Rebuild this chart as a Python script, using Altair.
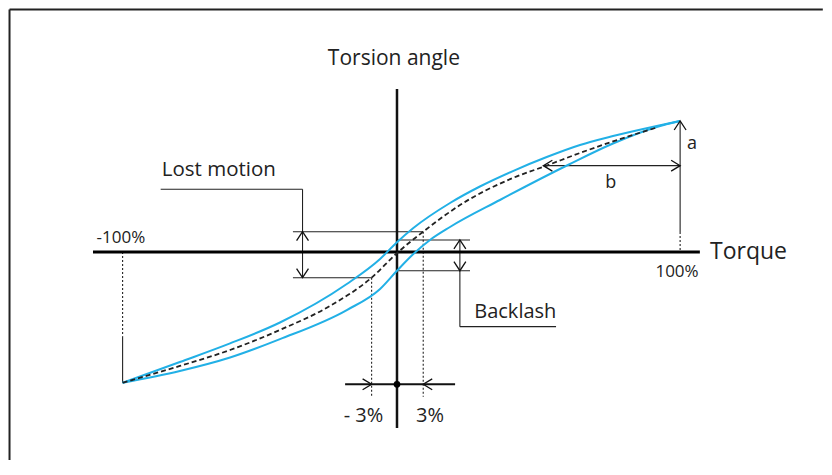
import altair as alt
import pandas as pd

# ---------------- data (torque % , torsion angle %) ----------------
upper_T = [-97.3, -77.0, -59.2, -41.5, -17.8, -6.0, -0.1, 5.8, 18.8, 29.4, 41.1, 53.1, 64.9, 76.6, 92.1, 100.4]
upper_A = [-99.8, -84.0, -69.8, -53.8, -24.4, -5.3, 7.3, 18.3, 37.4, 50.0, 61.8, 72.5, 81.7, 88.5, 96.2, 100.0]

lower_T = [-97.3, -77.0, -59.2, -41.5, -17.8, -6.0, -0.1, 5.8, 11.7, 18.8, 36.5, 60.6, 76.6, 92.1, 100.4]
lower_A = [-99.8, -90.8, -80.5, -66.5, -44.3, -28.2, -14.5, -1.5, 9.2, 19.1, 39.7, 66.4, 82.8, 95.4, 100.0]

mean_T = [-97.3, -77.0, -59.2, -41.5, -23.8, -9.0, 0.0, 9.3, 23.5, 41.1, 53.1, 64.9, 76.6, 92.1]
mean_A = [-99.8, -87.0, -74.8, -59.5, -41.2, -19.6, -0.8, 15.5, 37.4, 56.5, 66.0, 75.6, 84.4, 95.0]

# line segments: (x1, y1, x2, y2, style)
seg_x1 = [-107.8, 0.0, -36.9, -36.9, -33.5, -83.8, 0.4, 0.4, 22.3, 22.3, 100.4, 51.9, -97.3,
          100.4, -97.3, -9.0, 9.3, -18.4]
seg_y1 = [0.0, 124.4, 15.5, -19.6, -19.6, 47.9, 9.2, -14.3, 9.2, -57.0, 100.0, 65.9, -64.7,
          15.3, 0.0, -19.6, 15.5, -101.0]
seg_x2 = [107.4, 0.0, 9.3, -9.0, -33.5, -33.5, 25.9, 25.9, 22.3, 56.4, 100.4, 100.4, -97.3,
          100.4, -97.3, -9.0, 9.3, 20.6]
seg_y2 = [0.0, -134.4, 15.5, -19.6, 47.9, 47.9, 9.2, -14.3, -57.0, -57.0, 15.3, 65.9, -99.8,
          0.0, -64.7, -110.5, -110.5, -101.0]
seg_style = ["axisx", "axisy", "thin", "thin", "thin", "thin", "thin", "thin", "thin", "thin",
             "thin", "thin", "thin", "dot", "dot", "dot", "dot", "mid"]

# outer frame edges (top and left only), in the same units
top_x1, top_y1, top_x2, top_y2 = [-137.4], [185.1], [151.0], [185.1]
left_x1, left_y1, left_x2, left_y2 = [-137.4], [185.1], [-137.4], [-158.78]

# arrow heads: (x, y, direction)
arr_x = [-33.5, -33.5, 22.3, 22.3, 100.4, 51.9, 100.4, -9.0, 9.3]
arr_y = [15.5, -19.6, 9.2, -14.3, 100.0, 65.9, 65.9, -101.0, -101.0]
arr_dir = ["up", "down", "up", "down", "up", "left", "right", "right", "left"]

dot_x = [0.0]
dot_y = [-101.0]

# labels
lab_text = ["Torsion angle", "Torque", "Lost motion", "Backlash", "-100%", "100%", "a", "b", "- 3%", "3%"]
lab_x = [-1.1, 111.0, -83.4, 27.4, -97.9, 99.3, 104.6, 75.8, -11.9, 11.7]
lab_y = [142.7, -5.5, 58.0, -50.6, 6.9, -18.9, 78.5, 49.0, -129.5, -129.5]
lab_size = [21, 23, 20.5, 20, 17, 17, 18, 18, 20, 20]
lab_align = ["center", "left", "left", "left", "center", "center", "center", "center", "center", "center"]

# ---------------- chart ----------------
W, H = 816, 452
XS = alt.Scale(domain=[-137.94, 151.42], nice=False, zero=False)
YS = alt.Scale(domain=[-158.78, 186.26], nice=False, zero=False)
FONT = "Open Sans"


def curve(T, A):
    return pd.DataFrame({"T": T, "A": A})


def line_layer(df, color, width, dash=None):
    kw = dict(color=color, strokeWidth=width, interpolate="monotone")
    if dash:
        kw["strokeDash"] = dash
    return alt.Chart(df).mark_line(**kw).encode(
        x=alt.X("T:Q", scale=XS, axis=None),
        y=alt.Y("A:Q", scale=YS, axis=None),
    )


segs = pd.DataFrame({"x1": seg_x1, "y1": seg_y1, "x2": seg_x2, "y2": seg_y2, "style": seg_style})
top_df = pd.DataFrame({"x1": top_x1, "y1": top_y1, "x2": top_x2, "y2": top_y2})
left_df = pd.DataFrame({"x1": left_x1, "y1": left_y1, "x2": left_x2, "y2": left_y2})


def rule_layer(df, color, width, dash=None):
    kw = dict(color=color, strokeWidth=width)
    if dash:
        kw["strokeDash"] = dash
    return alt.Chart(df).mark_rule(**kw).encode(
        x=alt.X("x1:Q", scale=XS, axis=None),
        y=alt.Y("y1:Q", scale=YS, axis=None),
        x2="x2:Q",
        y2="y2:Q",
    )


def seg_layer(style, color, width, dash=None):
    return rule_layer(segs[segs["style"] == style], color, width, dash)


shapes = {
    "up": "M-0.66,1 L0,0 L0.66,1",
    "down": "M-0.66,-1 L0,0 L0.66,-1",
    "left": "M1,-0.6 L0,0 L1,0.6",
    "right": "M-1,-0.6 L0,0 L-1,0.6",
}
arrows = pd.DataFrame({"x": arr_x, "y": arr_y, "d": arr_dir})


def arrow_layer(d):
    return alt.Chart(arrows[arrows["d"] == d]).mark_point(
        shape=shapes[d], size=324, filled=False, color="#111", strokeWidth=1.3, opacity=1
    ).encode(
        x=alt.X("x:Q", scale=XS, axis=None),
        y=alt.Y("y:Q", scale=YS, axis=None),
    )


labels = pd.DataFrame({"text": lab_text, "x": lab_x, "y": lab_y})


def text_layer(i):
    row = labels.iloc[[i]]
    return alt.Chart(row).mark_text(
        align=lab_align[i], baseline="alphabetic", font=FONT, fontSize=lab_size[i], color="#222"
    ).encode(
        x=alt.X("x:Q", scale=XS, axis=None),
        y=alt.Y("y:Q", scale=YS, axis=None),
        text="text:N",
    )


dots = alt.Chart(pd.DataFrame({"x": dot_x, "y": dot_y})).mark_circle(size=45, color="#000", opacity=1).encode(
    x=alt.X("x:Q", scale=XS, axis=None),
    y=alt.Y("y:Q", scale=YS, axis=None),
)

layers = [
    rule_layer(top_df, "#222", 2),
    rule_layer(left_df, "#222", 2),
    seg_layer("thin", "#222", 1.1),
    seg_layer("dot", "#222", 1.1, [2, 2]),
    seg_layer("mid", "#111", 2),
    seg_layer("axisy", "#111", 2.5),
    seg_layer("axisx", "#000", 3.2),
    line_layer(curve(upper_T, upper_A), "#22b0e6", 2),
    line_layer(curve(lower_T, lower_A), "#22b0e6", 2),
    line_layer(curve(mean_T, mean_A), "#222", 1.8, [5, 3]),
]
layers += [arrow_layer(d) for d in ["up", "down", "left", "right"]]
layers.append(dots)
layers += [text_layer(i) for i in range(len(lab_text))]

chart = alt.layer(*layers).properties(
    width=W, height=H, padding=0, autosize=alt.AutoSizeParams(type="none")
).configure_view(stroke=None)

chart.save("out.html", embed_options={"renderer": "svg", "actions": False})
